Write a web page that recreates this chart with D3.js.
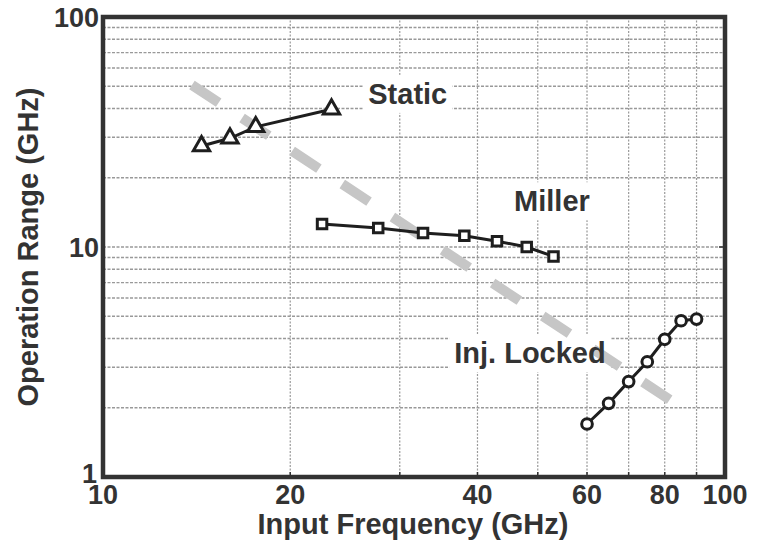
<!DOCTYPE html>
<html>
<head>
<meta charset="utf-8">
<script src="https://cdn.jsdelivr.net/npm/d3@7"></script>
<style>
  body { margin: 0; background: #fff; }
  text { font-family: "Liberation Sans", Arial, sans-serif; font-weight: bold; fill: #333; }
</style>
</head>
<body>
<div id="fix"></div>
<script>
// values (GHz)
var staticFreq = [14.4, 16.0, 17.6, 23.3];
var staticRange = [27.5, 29.7, 33.3, 39.7];
var millerFreq = [22.5, 27.7, 32.7, 38.1, 43, 48, 53];
var millerRange = [12.6, 12.1, 11.5, 11.2, 10.6, 10.0, 9.1];
var injFreq = [60, 65, 70, 75, 80, 85, 90];
var injRange = [1.70, 2.09, 2.60, 3.17, 3.97, 4.78, 4.86];
var trendFreq = [13.9, 83];
var trendRange = [50.6, 2.1];

var xTickLabels = [10, 20, 40, 60, 80, 100];
var yTickLabels = [1, 10, 100];
var seriesNames = ["Static", "Miller", "Inj. Locked"];
var nameFreq = [26.7, 45.8, 36.7];
var nameRange = [41.9, 14.3, 3.13];

var width = 757,
    height = 550;
var margin = {left: 103, top: 17, right: 32, bottom: 73};
var iw = width - margin.left - margin.right,
    ih = height - margin.top - margin.bottom;

var x = d3.scaleLog().domain([10, 100]).range([0, iw]);
var y = d3.scaleLog().domain([1, 100]).range([ih, 0]);

var svg = d3.select("#fix").append("svg")
  .attr("width", width)
  .attr("height", height);

var g = svg.append("g")
  .attr("transform", "translate(" + margin.left + "," + margin.top + ")");

// dotted grid
var xGrid = d3.range(20, 100, 10);
var yGrid = [];
[1, 10].forEach(function(dec) {
  for (var k = 1; k < 10; k++) {
    if (dec * k > 1) yGrid.push(dec * k);
  }
});

g.selectAll(".vgrid")
  .data(xGrid)
  .enter()
  .append("line")
  .attr("class", "vgrid")
  .attr("x1", d => x(d)).attr("x2", d => x(d))
  .attr("y1", 0).attr("y2", ih)
  .attr("stroke", "#999")
  .attr("stroke-width", 1.2)
  .attr("stroke-dasharray", "2,1.5");

g.selectAll(".hgrid")
  .data(yGrid)
  .enter()
  .append("line")
  .attr("class", "hgrid")
  .attr("x1", 0).attr("x2", iw)
  .attr("y1", d => y(d)).attr("y2", d => y(d))
  .attr("stroke", "#999")
  .attr("stroke-width", 1.4)
  .attr("stroke-dasharray", "3,1.5");

// series labels: white boxes cut the grid, text goes on top later
var labels = g.selectAll(".lab")
  .data(seriesNames)
  .enter()
  .append("g")
  .attr("class", "lab");

labels.append("rect").attr("fill", "#fff");
var labelText = g.append("g");
labelText.selectAll("text")
  .data(seriesNames)
  .enter()
  .append("text")
  .attr("x", (d, i) => x(nameFreq[i]))
  .attr("y", (d, i) => y(nameRange[i]))
  .style("font-size", "29px")
  .text(d => d);

labels.each(function(d, i) {
  var b = labelText.selectAll("text").nodes()[i].getBBox();
  d3.select(this).select("rect")
    .attr("x", b.x - 5).attr("y", b.y - 3)
    .attr("width", b.width + 10).attr("height", b.height + 6);
});

// gray dashed trend line
var line = d3.line()
  .x(d => x(d[0]))
  .y(d => y(d[1]));

g.append("path")
  .datum(d3.zip(trendFreq, trendRange))
  .attr("d", line)
  .attr("fill", "none")
  .attr("stroke", "#c6c6c6")
  .attr("stroke-width", 10)
  .attr("stroke-dasharray", "32,28");

labelText.raise();

// measured series
function drawSeries(fx, fy, shape) {
  var pts = d3.zip(fx, fy);
  g.append("path")
    .datum(pts)
    .attr("d", line)
    .attr("fill", "none")
    .attr("stroke", "#1e1e1e")
    .attr("stroke-width", 3);

  g.selectAll(null)
    .data(pts)
    .enter()
    .append("path")
    .attr("d", d3.symbol().type(shape.type).size(shape.size))
    .attr("transform", d => "translate(" + x(d[0]) + "," + y(d[1]) + ")")
    .attr("fill", "#fff")
    .attr("stroke", "#1e1e1e")
    .attr("stroke-width", 3);
}

drawSeries(staticFreq, staticRange, {type: d3.symbolTriangle, size: 115});
drawSeries(millerFreq, millerRange, {type: d3.symbolSquare, size: 90});
drawSeries(injFreq, injRange, {type: d3.symbolCircle, size: 90});

// frame and inward ticks
g.selectAll(".xt")
  .data(xGrid)
  .enter()
  .append("line")
  .attr("x1", d => x(d)).attr("x2", d => x(d))
  .attr("y1", ih).attr("y2", ih - 5)
  .attr("stroke", "#333").attr("stroke-width", 1.5);

g.selectAll(".yt")
  .data([10])
  .enter()
  .append("line")
  .attr("x1", iw).attr("x2", iw - 6)
  .attr("y1", d => y(d)).attr("y2", d => y(d))
  .attr("stroke", "#333").attr("stroke-width", 1.5);

g.append("rect")
  .attr("x", 0).attr("y", 0)
  .attr("width", iw).attr("height", ih)
  .attr("fill", "none")
  .attr("stroke", "#333")
  .attr("stroke-width", 4.5);

// tick labels
g.selectAll(".xl")
  .data(xTickLabels)
  .enter()
  .append("text")
  .attr("x", d => x(d))
  .attr("y", ih + 27)
  .attr("text-anchor", "middle")
  .style("font-size", "27px")
  .text(d => d);

// the bottom "1" sits a little higher so it clears the "10" below it
g.selectAll(".yl")
  .data(yTickLabels)
  .enter()
  .append("text")
  .attr("x", d => d === 1 ? -6 : -4)
  .attr("y", d => y(d) + (d === 1 ? 6 : 10))
  .attr("text-anchor", "end")
  .style("font-size", "27px")
  .text(d => d);

// axis titles
svg.append("text")
  .attr("x", 413)
  .attr("y", 534)
  .attr("text-anchor", "middle")
  .style("font-size", "29px")
  .text("Input Frequency (GHz)");

svg.append("text")
  .attr("transform", "translate(38," + (margin.top + ih / 2) + ") rotate(-90)")
  .attr("text-anchor", "middle")
  .style("font-size", "29px")
  .text("Operation Range (GHz)");
</script>
</body>
</html>
